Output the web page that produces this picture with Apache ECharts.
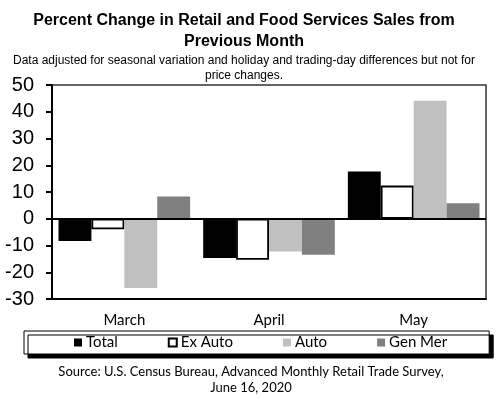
<!DOCTYPE html>
<html><head><meta charset="utf-8">
<script src="https://cdn.jsdelivr.net/npm/echarts@6/dist/echarts.min.js"></script>
<style>html,body{margin:0;padding:0;background:#fff}#c{width:500px;height:400px}</style>
</head><body><div id="c"></div>
<script>
var categories = ['March', 'April', 'May'];
var seriesNames = ['Total', 'Ex Auto', 'Auto', 'Gen Mer'];
var totalValues = [-8.3, -14.7, 17.7];
var exAutoValues = [-3.9, -15.3, 12.4];
var autoValues = [-25.9, -12.2, 44.1];
var genMerValues = [8.3, -13.5, 5.8];
var yTicks = {min: -30, max: 50, interval: 10};

var chart = echarts.init(document.getElementById('c'), null, {renderer: 'canvas'});
var styles = [
  {color: '#000000'},
  {color: '#ffffff', borderColor: '#000000', borderWidth: 1.8},
  {color: '#c0c0c0'},
  {color: '#808080'}
];
var allValues = [totalValues, exAutoValues, autoValues, genMerValues];
var series = seriesNames.map(function (n, i) {
  var s = {
    name: n, type: 'bar', data: allValues[i], barGap: '0%', barCategoryGap: '9%',
    itemStyle: styles[i], emphasis: {disabled: true}, animation: false
  };
  if (i === 3) {
    s.markLine = {silent: true, symbol: 'none', label: {show: false},
      lineStyle: {color: '#000', width: 2, type: 'solid'}, data: [{yAxis: 0}], animation: false};
  }
  return s;
});

chart.setOption({
  animation: false,
  title: [
    {text: 'Percent Change in Retail and Food Services Sales from\nPrevious Month', left: 239, textAlign: 'center', top: 5,
      textStyle: {fontFamily: 'Liberation Sans', fontWeight: 'bold', fontSize: 16, lineHeight: 21, color: '#000'}},
    {text: 'Data adjusted for seasonal variation and holiday and trading-day differences but not for\nprice changes.', left: 239, textAlign: 'center', top: 48,
      textStyle: {fontFamily: 'Liberation Sans', fontWeight: 'normal', fontSize: 12, lineHeight: 15, color: '#000'}},
    {text: 'Source: U.S. Census Bureau, Advanced Monthly Retail Trade Survey,\nJune 16, 2020', left: 246, textAlign: 'center', top: 359,
      textStyle: {fontFamily: 'Lato', fontWeight: 'normal', fontSize: 13, lineHeight: 16, color: '#000'}}
  ],
  grid: {left: 52, right: 14, top: 85, bottom: 101, show: true, borderColor: '#333', borderWidth: 1.5, backgroundColor: 'transparent'},
  legend: {
    data: seriesNames, left: 24, top: 331, itemGap: 50, itemWidth: 8, itemHeight: 8,
    padding: [4, 42, 4, 50], borderColor: '#000', borderWidth: 1, backgroundColor: '#fff',
    shadowColor: '#000', shadowOffsetX: 4, shadowOffsetY: 4, shadowBlur: 0,
    icon: 'rect', selectedMode: false,
    textStyle: {fontFamily: 'Lato', fontSize: 15, color: '#000', padding: [0, 0, 0, -1]}
  },
  xAxis: {
    type: 'category', data: categories,
    axisLine: {onZero: false, show: true, lineStyle: {color: '#000', width: 2}},
    axisTick: {show: false},
    axisLabel: {fontFamily: 'Lato', fontSize: 15, color: '#000', margin: 14}
  },
  yAxis: {
    type: 'value', min: yTicks.min, max: yTicks.max, interval: yTicks.interval,
    axisLine: {show: true, lineStyle: {color: '#000', width: 2}},
    axisTick: {show: true, length: 6, lineStyle: {color: '#000', width: 2}},
    splitLine: {show: false},
    axisLabel: {fontFamily: 'Liberation Sans', fontSize: 20, color: '#000', margin: 18}
  },
  series: series
});
</script></body></html>
